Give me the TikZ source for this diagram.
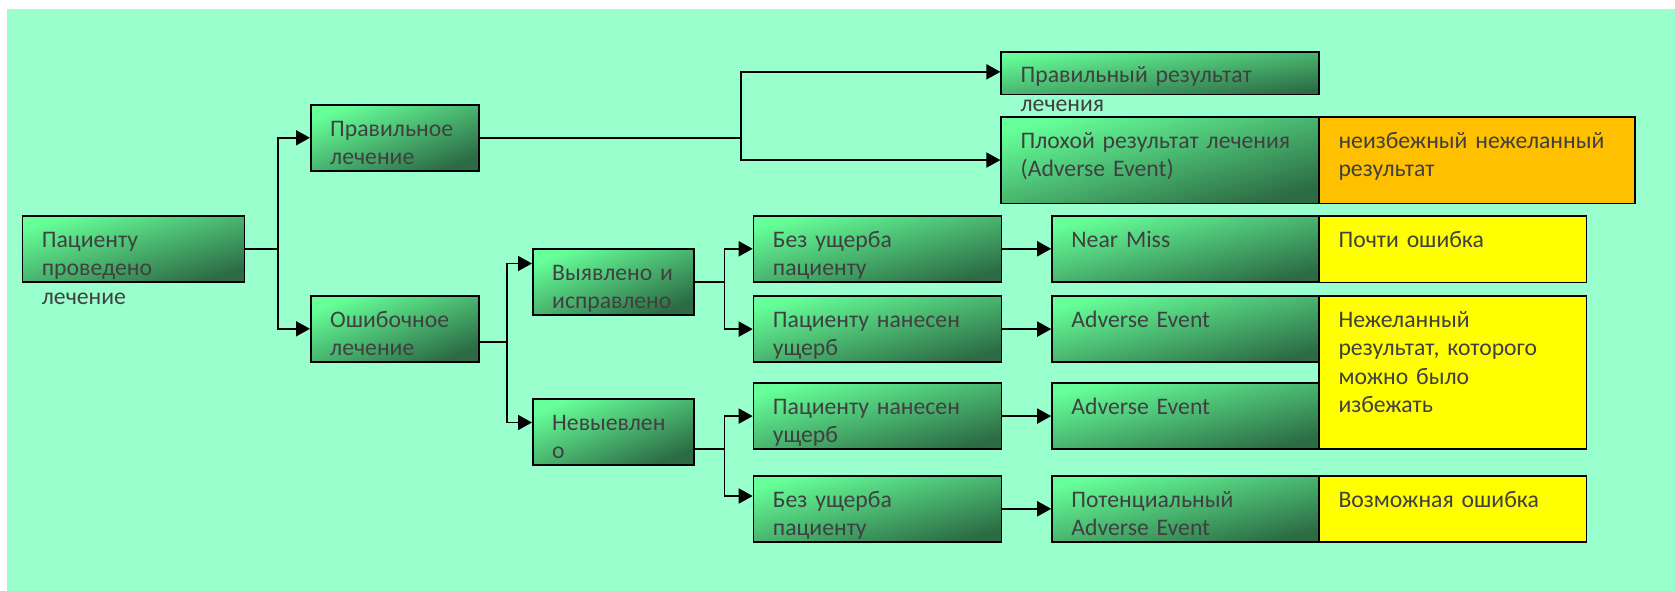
\documentclass[tikz,border=0pt]{standalone}
\usepackage{fontspec}
\setmainfont{Carlito}
\usetikzlibrary{arrows.meta}
\definecolor{mint}{HTML}{99FFCC}
\definecolor{gLight}{HTML}{66FF99}
\definecolor{gDark}{HTML}{2C6B44}
\definecolor{amber}{HTML}{FFC000}
\definecolor{lemon}{HTML}{FFFF00}
\definecolor{ink}{HTML}{404040}
\begin{document}
\begin{tikzpicture}[x=1pt,y=-1pt,
  frame/.style={draw=black, line width=1.6pt, anchor=north west, inner sep=0pt},
  sz/.style 2 args={minimum width=#1pt, minimum height=#2pt},
  % light top-left corner to dark bottom-right corner; the angle is atan(height/width)
  gbox/.style={frame, top color=gLight, bottom color=gDark, shading angle=#1},
  ybox/.style={frame, fill=lemon},
  obox/.style={frame, fill=amber},
  lbl/.style={anchor=base west, inner sep=0pt, text width=420pt, align=left,
    font=\fontsize{23.7}{28.5}\selectfont, text=ink},
  link/.style={draw=black, line width=1.8pt, -{Triangle[length=14pt,width=15pt]}},
]
% canvas
\useasboundingbox (0,0) rectangle (1675,591);
\fill[white] (0,0) rectangle (1675,591);
\fill[mint] (7,9) rectangle (1675,591);

% green boxes
\node[gbox=16.56, sz={222}{66}] (root) at (21.7,215) {};
\node[gbox=21.45, sz={168}{66}] (good) at (310,104) {};
\node[gbox=21.45, sz={168}{66}] (err) at (310,295) {};
\node[gbox=22.29, sz={161}{66}] (found) at (532,248) {};
\node[gbox=22.29, sz={161}{66}] (notfound) at (532,398) {};
\node[gbox=7.65, sz={318}{42.7}] (goodres) at (1000.4,51) {};
\node[gbox=15.22, sz={318}{86.5}] (badres) at (1000.4,116) {};
\node[gbox=14.90, sz={248}{66}] (nh1) at (752.7,215) {};
\node[gbox=14.90, sz={248}{66}] (h1) at (752.7,295.3) {};
\node[gbox=14.90, sz={248}{66}] (h2) at (752.7,382.3) {};
\node[gbox=14.90, sz={248}{66}] (nh2) at (752.7,475) {};
\node[gbox=13.88, sz={267}{66}] (nm) at (1051.2,215) {};
\node[gbox=13.88, sz={267}{66}] (ae1) at (1051.2,295.3) {};
\node[gbox=13.88, sz={267}{66}] (ae2) at (1051.2,382.3) {};
\node[gbox=13.88, sz={267}{66}] (pae) at (1051.2,475) {};

% classification boxes
\node[obox, sz={316}{86.5}] (unavoid) at (1318.3,116) {};
\node[ybox, sz={267.4}{66.5}] (near) at (1318.3,215) {};
\node[ybox, sz={267.4}{153.3}] (avoid) at (1318.3,295) {};
\node[ybox, sz={267.4}{66}] (poss) at (1318.3,475) {};

% texts
\node[lbl] (rootT) at ([xshift=20pt,yshift=-32pt]root.north west) {Пациенту\\проведено\\лечение};
\node[lbl] (goodT) at ([xshift=20pt,yshift=-32pt]good.north west) {Правильное\\лечение};
\node[lbl] (errT) at ([xshift=20pt,yshift=-32pt]err.north west) {Ошибочное\\лечение};
\node[lbl] (foundT) at ([xshift=20pt,yshift=-32pt]found.north west) {Выявлено и\\исправлено};
\node[lbl] (notfoundT) at ([xshift=20pt,yshift=-32pt]notfound.north west) {Невыевлен\\о};
\node[lbl] (goodresT) at ([xshift=20pt,yshift=-32pt]goodres.north west) {Правильный результат\\лечения};
\node[lbl] (badresT) at ([xshift=20pt,yshift=-32pt]badres.north west) {Плохой результат лечения\\(Adverse Event)};
\node[lbl] (unavoidT) at ([xshift=20pt,yshift=-32pt]unavoid.north west) {неизбежный нежеланный\\результат};
\node[lbl] (nh1T) at ([xshift=20pt,yshift=-32pt]nh1.north west) {Без ущерба\\пациенту};
\node[lbl] (h1T) at ([xshift=20pt,yshift=-32pt]h1.north west) {Пациенту нанесен\\ущерб};
\node[lbl] (h2T) at ([xshift=20pt,yshift=-32pt]h2.north west) {Пациенту нанесен\\ущерб};
\node[lbl] (nh2T) at ([xshift=20pt,yshift=-32pt]nh2.north west) {Без ущерба\\пациенту};
\node[lbl] (nmT) at ([xshift=20pt,yshift=-32pt]nm.north west) {Near Miss};
\node[lbl] (ae1T) at ([xshift=20pt,yshift=-32pt]ae1.north west) {Adverse Event};
\node[lbl] (ae2T) at ([xshift=20pt,yshift=-32pt]ae2.north west) {Adverse Event};
\node[lbl] (paeT) at ([xshift=20pt,yshift=-32pt]pae.north west) {Потенциальный\\Adverse Event};
\node[lbl] (nearT) at ([xshift=20pt,yshift=-32pt]near.north west) {Почти ошибка};
\node[lbl] (avoidT) at ([xshift=20pt,yshift=-32pt]avoid.north west) {Нежеланный\\результат, которого\\можно было\\избежать};
\node[lbl] (possT) at ([xshift=20pt,yshift=-32pt]poss.north west) {Возможная ошибка};

% connectors
\draw[link] (root.east) -- ++(33,0) |- (good.west);
\draw[link] (root.east) -- ++(33,0) |- (err.west);
\draw[link] (good.east) -- ++(261.3,0) |- ([yshift=1.3pt]goodres.west);
\draw[link] (good.east) -- ++(261.3,0) |- (badres.west);
\draw[link] ([yshift=-13pt]err.east) -- ++(27,0) |- ([yshift=18.3pt]found.west);
\draw[link] ([yshift=-13pt]err.east) -- ++(27,0) |- ([yshift=9.3pt]notfound.west);
\draw[link] (found.east) -- ++(29.8,0) |- (nh1.west);
\draw[link] (found.east) -- ++(29.8,0) |- (h1.west);
\draw[link] ([yshift=-17.3pt]notfound.east) -- ++(29.8,0) |- (h2.west);
\draw[link] ([yshift=-17.3pt]notfound.east) -- ++(29.8,0) |- ([yshift=12.8pt]nh2.west);
\draw[link] (nh1.east) -- (nm.west);
\draw[link] (h1.east) -- (ae1.west);
\draw[link] (h2.east) -- (ae2.west);
\draw[link] (nh2.east) -- (pae.west);
\end{tikzpicture}
\end{document}
